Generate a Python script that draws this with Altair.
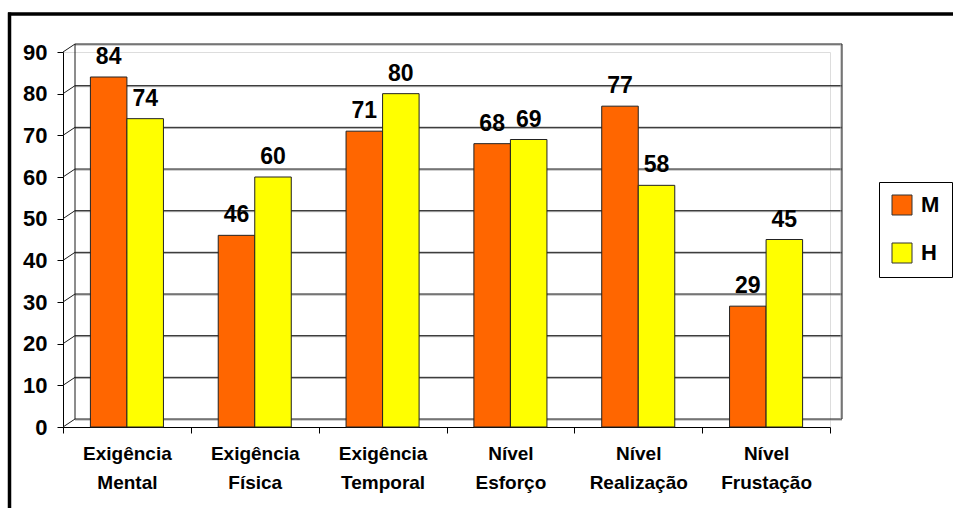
import altair as alt
import pandas as pd

# Workload dimensions (two-line labels split on the space)
categorias = ["Exigência Mental", "Exigência Física", "Exigência Temporal",
              "Nível Esforço", "Nível Realização", "Nível Frustação"]
series = ["M", "H"]
valores_m = [84, 46, 71, 68, 77, 29]
valores_h = [74, 60, 80, 69, 58, 45]
cores = ["#FF6600", "#FFFF00"]
marcas_y = [0, 10, 20, 30, 40, 50, 60, 70, 80, 90]

FONT = "Liberation Sans"
W, H = 767, 375          # front plane of the plot
DX, DY = 12, -8          # depth offset of the back wall
GRID = "#1a1a1a"
SHADE = "#a0a0a0"

rows = []
for cat, m, h in zip(categorias, valores_m, valores_h):
    rows.append({"categoria": cat, "serie": "M", "valor": m})
    rows.append({"categoria": cat, "serie": "H", "valor": h})
df = pd.DataFrame(rows)
ticks_df = pd.DataFrame({"v": marcas_y})
wall_df = pd.DataFrame({"v": [90], "v0": [0]})

yscale = alt.Scale(domain=[0, 90], nice=False, zero=True)
y_axis = alt.Axis(title=None, values=marcas_y, grid=False, tickSize=6,
                  tickColor="black", domainColor="black",
                  labelFont=FONT, labelFontSize=22, labelFontWeight="bold",
                  labelColor="black", labelPadding=10)

# back wall gridlines with a soft shade underneath
grid_shade = alt.Chart(ticks_df).mark_rule(color=SHADE, strokeWidth=1, yOffset=DY + 1).encode(
    y=alt.Y("v:Q", scale=yscale, axis=y_axis),
    x=alt.value(DX), x2=alt.value(W + DX),
)
grid = alt.Chart(ticks_df).mark_rule(color=GRID, strokeWidth=1, yOffset=DY).encode(
    y=alt.Y("v:Q", scale=yscale, axis=y_axis),
    x=alt.value(DX), x2=alt.value(W + DX),
)
# diagonals from the front ticks to the back wall
diag = alt.Chart(ticks_df).mark_rule(color=GRID, strokeWidth=1, y2Offset=DY).encode(
    y=alt.Y("v:Q", scale=yscale, axis=y_axis), y2="v:Q",
    x=alt.value(0), x2=alt.value(DX),
)
# back wall side edges
edge_l = alt.Chart(wall_df).mark_rule(color=GRID, strokeWidth=1, yOffset=DY, y2Offset=DY).encode(
    y=alt.Y("v:Q", scale=yscale, axis=y_axis), y2="v0:Q", x=alt.value(DX),
)
edge_r_shade = alt.Chart(wall_df).mark_rule(color=SHADE, strokeWidth=1, yOffset=DY, y2Offset=DY).encode(
    y=alt.Y("v:Q", scale=yscale, axis=y_axis), y2="v0:Q", x=alt.value(W + DX - 1),
)
edge_r = alt.Chart(wall_df).mark_rule(color=GRID, strokeWidth=1, yOffset=DY, y2Offset=DY).encode(
    y=alt.Y("v:Q", scale=yscale, axis=y_axis), y2="v0:Q", x=alt.value(W + DX),
)

x_enc = alt.X(
    "categoria:N", sort=categorias,
    scale=alt.Scale(paddingInner=0, paddingOuter=0),
    axis=alt.Axis(title=None, labelAngle=0, labelExpr="split(datum.label, ' ')",
                  tickBand="extent", tickSize=6, tickColor="black", domainColor="black",
                  labelFont=FONT, labelFontSize=19, labelFontWeight="bold",
                  labelColor="black", labelLineHeight=29, labelPadding=11),
)
xoff = alt.XOffset("serie:N", sort=series,
                   scale=alt.Scale(paddingInner=0, paddingOuter=0.75))
y_enc = alt.Y("valor:Q", scale=yscale, axis=y_axis)

bars = alt.Chart(df).mark_bar(stroke="#222222", strokeWidth=1).encode(
    x=x_enc, xOffset=xoff, y=y_enc,
    color=alt.Color(
        "serie:N", sort=series,
        scale=alt.Scale(domain=series, range=cores),
        legend=alt.Legend(title=None, orient="none", legendX=816, legendY=130,
                          symbolType="square", symbolSize=400,
                          symbolStrokeColor="#333333", symbolStrokeWidth=1,
                          labelFont=FONT, labelFontSize=22, labelFontWeight="bold",
                          labelColor="black", strokeColor="black", fillColor="white",
                          padding=12, rowPadding=24, labelOffset=8),
    ),
)

labels = alt.Chart(df).mark_text(
    baseline="bottom", dy=-8, font=FONT, fontSize=23, fontWeight="bold", color="black"
).encode(x=alt.X("categoria:N", sort=categorias), xOffset=alt.XOffset("serie:N", sort=series),
         y=y_enc, text="valor:Q")

# outer frame (left and top edges)
frame_l = alt.Chart(wall_df).mark_rule(color="black", strokeWidth=3.5).encode(
    x=alt.value(-53.5), y=alt.value(-39.5), y2=alt.value(H + 100),
)
frame_t = alt.Chart(wall_df).mark_rule(color="black", strokeWidth=3.5).encode(
    x=alt.value(-55), x2=alt.value(W + 200), y=alt.value(-38),
)

chart = alt.layer(grid_shade, grid, diag, edge_l, edge_r_shade, edge_r, bars, labels,
                  frame_l, frame_t).properties(
    width=W, height=H,
    padding={"left": 63, "top": 52, "right": 123, "bottom": 81},
    autosize=alt.AutoSizeParams(type="none"),
    background="white",
).configure_view(stroke=None).configure(font=FONT)

chart.save("out.html", embed_options={"renderer": "svg", "actions": False})
